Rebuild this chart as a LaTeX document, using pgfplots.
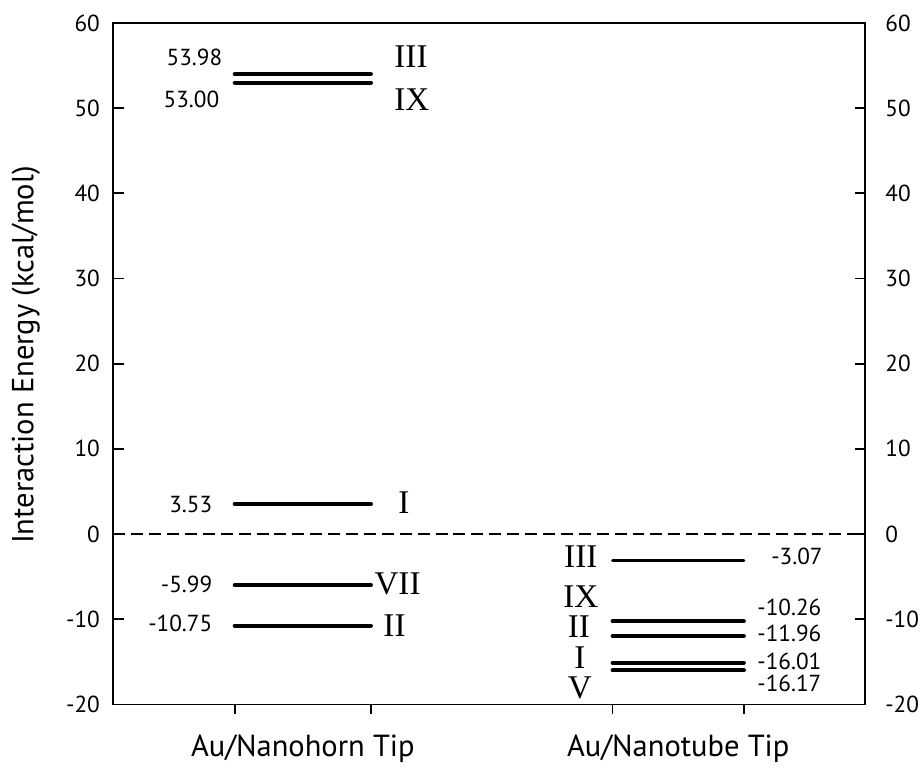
\documentclass[border=0pt]{standalone}
\usepackage{fontspec}
\setmainfont{PT Sans}
\newfontfamily\rom{Liberation Serif}
\usepackage{pgfplots}
\pgfplotsset{compat=1.18}
\newcommand{\tickfont}{\fontsize{17.5}{20}\selectfont}
\newcommand{\valfont}{\fontsize{17.5}{20}\selectfont}
\newcommand{\catfont}{\fontsize{23}{26}\selectfont}
\newcommand{\romfont}{\rom\fontsize{25}{28}\selectfont}
\begin{document}
\begin{tikzpicture}[every node/.append style={inner sep=1pt}]
\pgfplotsset{
  common/.style={
    scale only axis, width=567pt, height=514pt,
    xmin=0, xmax=7.56, ymin=-20, ymax=60,
    ytick={-20,-10,...,60},
    axis line style={line width=1.4pt},
    /pgf/number format/assume math mode=true,
    tick style={line width=1.3pt, black},
    major tick length=8pt,
    tick label style={font=\tickfont, inner sep=3pt},
    clip=false,
  }
}
\begin{axis}[common,
  xtick={1.22,2.59,5.02,6.34}, xticklabels={,,,},
  x tick style={/pgfplots/major tick length=7pt},
  xtick pos=bottom, xtick align=outside,
  ytick pos=both, ytick align=inside,
  yticklabel pos=left,
  yticklabel style={xshift=-7pt},
  ylabel={Interaction Energy (kcal/mol)},
  every axis y label/.style={at={(rel axis cs:-0.1164,0.5124)}, rotate=90, anchor=center, font=\catfont},
]
% zero reference
\addplot[black, line width=1.3pt, dash pattern=on 9pt off 4.5pt] coordinates {(0,0) (7.56,0)};
% Au/Nanohorn tip levels
\addplot[black, line width=3pt, line cap=round] coordinates {(1.22,53.98) (2.59,53.98)};
\addplot[black, line width=3pt, line cap=round] coordinates {(1.22,53.00) (2.59,53.00)};
\addplot[black, line width=3pt, line cap=round] coordinates {(1.22,3.53) (2.59,3.53)};
\addplot[black, line width=3pt, line cap=round] coordinates {(1.22,-5.99) (2.59,-5.99)};
\addplot[black, line width=3pt, line cap=round] coordinates {(1.22,-10.75) (2.59,-10.75)};
% Au/Nanotube tip levels
\addplot[black, line width=2.3pt, line cap=round] coordinates {(5.02,-3.07) (6.34,-3.07)};
\addplot[black, line width=3pt, line cap=round] coordinates {(5.02,-10.26) (6.34,-10.26)};
\addplot[black, line width=3pt, line cap=round] coordinates {(5.02,-11.96) (6.34,-11.96)};
\addplot[black, line width=3pt, line cap=round] coordinates {(5.02,-15.1) (6.34,-15.1)};
\addplot[black, line width=3pt, line cap=round] coordinates {(5.02,-16.0) (6.34,-16.0)};
% category labels
\node[anchor=base, font=\catfont] at (axis cs:1.905,-20) [yshift=-39pt] {Au/Nanohorn Tip};
\node[anchor=base, font=\catfont] at (axis cs:5.68,-20) [yshift=-39pt] {Au/Nanotube Tip};
% value labels, left
\node[anchor=east, font=\valfont] at (axis cs:1.11,56.0) {53.98};
\node[anchor=east, font=\valfont] at (axis cs:1.08,51.0) {53.00};
\node[anchor=east, font=\valfont] at (axis cs:1.01,3.5) {3.53};
\node[anchor=east, font=\valfont] at (axis cs:1.01,-5.9) {-5.99};
\node[anchor=east, font=\valfont] at (axis cs:1.01,-10.5) {-10.75};
% roman labels, left
\node[anchor=west, font=\romfont] at (axis cs:2.81,56.0) {III};
\node[anchor=west, font=\romfont] at (axis cs:2.81,51.0) {IX};
\node[anchor=west, font=\romfont] at (axis cs:2.85,3.7) {I};
\node[anchor=west, font=\romfont] at (axis cs:2.61,-5.8) {VII};
\node[anchor=west, font=\romfont] at (axis cs:2.70,-10.7) {II};
% roman labels, right
\node[font=\romfont] at (axis cs:4.70,-2.6) {III};
\node[font=\romfont] at (axis cs:4.70,-7.3) {IX};
\node[font=\romfont] at (axis cs:4.68,-10.9) {II};
\node[font=\romfont] at (axis cs:4.69,-14.5) {I};
\node[font=\romfont] at (axis cs:4.69,-18.1) {V};
% value labels, right
\node[anchor=west, font=\valfont] at (axis cs:6.60,-2.6) {-3.07};
\node[anchor=west, font=\valfont] at (axis cs:6.46,-8.6) {-10.26};
\node[anchor=west, font=\valfont] at (axis cs:6.46,-11.7) {-11.96};
\node[anchor=west, font=\valfont] at (axis cs:6.46,-14.9) {-16.01};
\node[anchor=west, font=\valfont] at (axis cs:6.46,-17.5) {-16.17};
% picture extent
\path (rel axis cs:-0.1508,-0.0934) rectangle (rel axis cs:1.070,1.0336);
\end{axis}
\begin{axis}[common,
  hide x axis,
  axis y line*=right,
  ytick align=inside,
  yticklabel style={xshift=12pt},
]
\addplot[draw=none] coordinates {(0,0)};
\end{axis}
\end{tikzpicture}
\end{document}
